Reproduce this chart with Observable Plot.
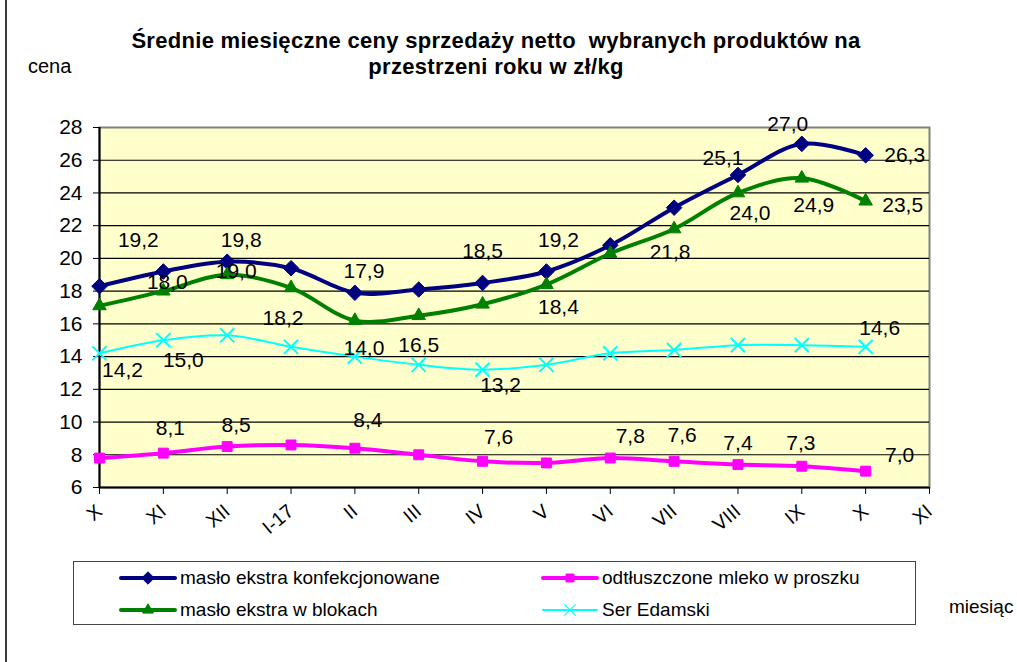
<!DOCTYPE html>
<html>
<head>
<meta charset="utf-8">
<script src="https://cdn.jsdelivr.net/npm/d3@7"></script>
<script src="https://cdn.jsdelivr.net/npm/@observablehq/plot@0.6"></script>
<style>
  body { margin: 0; background: #fff; font-family: "Liberation Sans", Arial, sans-serif; }
  #wrap { position: relative; width: 1017px; height: 662px; overflow: hidden; background: #fff; }
  #border { position: absolute; left: 5px; top: 0; width: 2px; height: 662px; background: #3a3a3a; }
  #title { position: absolute; left: 0; top: 28px; width: 992px; text-align: center; font-weight: bold; font-size: 22px; letter-spacing: 0.3px; line-height: 26px; color: #000; }
  #ylab { position: absolute; left: 28px; top: 57px; font-size: 20px; line-height: 19px; color: #000; }
  #xlab { position: absolute; left: 949px; top: 597px; font-size: 19px; line-height: 19px; color: #000; white-space: nowrap; }
  #chart { position: absolute; left: 0; top: 95px; }
  #legend { position: absolute; left: 73px; top: 561px; width: 841px; height: 62px; border: 1.5px solid #444; }
  .item { position: absolute; display: flex; align-items: center; font-size: 19px; color: #000; white-space: nowrap; height: 24px; }
  .item svg { display: block; margin-right: 3px; }
</style>
</head>
<body>
<div id="wrap">
  <div id="border"></div>
  <div id="title">Średnie miesięczne ceny sprzedaży netto&nbsp; wybranych produktów na<br>przestrzeni roku w zł/kg</div>
  <div id="ylab">cena</div>
  <div id="chart"></div>
  <div id="legend"></div>
  <div id="xlab">miesiąc</div>
</div>
<script>
// ---- data ----
const months = ["X", "XI", "XII", "I-17", "II", "III", "IV", "V", "VI", "VII", "VIII", "IX", "X", "XI"];
const masloKonf  = [18.3, 19.2, 19.8, 19.4, 17.9, 18.1, 18.5, 19.2, 20.8, 23.1, 25.1, 27.0, 26.3];
const mleko      = [7.8, 8.1, 8.5, 8.6, 8.4, 8.0, 7.6, 7.5, 7.8, 7.6, 7.4, 7.3, 7.0];
const masloBlok  = [17.1, 18.0, 19.0, 18.2, 16.2, 16.5, 17.2, 18.4, 20.3, 21.8, 24.0, 24.9, 23.5];
const serEdamski = [14.2, 15.0, 15.3, 14.6, 14.0, 13.5, 13.2, 13.5, 14.2, 14.4, 14.7, 14.7, 14.6];
const seriesNames = ["masło ekstra konfekcjonowane", "odtłuszczone mleko w proszku", "masło ekstra w blokach", "Ser Edamski"];
const yTicks = [6, 8, 10, 12, 14, 16, 18, 20, 22, 24, 26, 28];

// ---- styles ----
const styles = [
  {values: masloKonf,  color: "#000080", symbol: "diamond2", r: 7,   width: 4, fill: true},
  {values: mleko,      color: "#FF00FF", symbol: "square",   r: 5.6, width: 4, fill: true},
  {values: masloBlok,  color: "#008000", symbol: "triangle", r: 5,   width: 4, fill: true},
  {values: serEdamski, color: "#00FFFF", symbol: "times",    r: 6.5, width: 2, fill: false}
];
// which points carry a data label, with label offsets [index, dx, dy]
const labelSpots = [
  [[1,-25,-31],[2,14,-21],[4,9,-22],[6,0,-32],[7,12,-31],[10,-15,-17],[11,-14,-20],[12,39,0]],
  [[1,7,-25],[2,9,-21],[4,13,-28],[6,16,-24],[8,20,-22],[9,8,-26],[10,0,-21],[11,-1,-23],[12,34,-16]],
  [[1,4,-9],[2,9,-4],[3,-8,30],[5,0,30],[7,12,23],[9,-4,23],[10,12,20],[11,12,27],[12,37,4]],
  [[0,23,17],[1,20,20],[4,9,-8],[6,18,16],[12,14,-19]]
];

const fmt = v => v.toFixed(1).replace(".", ",");
const idx = d3.range(months.length);

const marks = [
  Plot.frame({fill: "#FFFFCC", stroke: "#808080", strokeWidth: 2}),
  Plot.gridY(yTicks.filter(t => t > 6 && t < 28), {stroke: "#000", strokeOpacity: 1, strokeWidth: 1.2}),
  Plot.ruleY([6], {stroke: "#000", strokeWidth: 2}),
  Plot.ruleX([0], {stroke: "#000", strokeWidth: 2}),
  Plot.axisY({ticks: yTicks, tickSize: 6, tickPadding: 11, fontSize: 21, label: null, tickFormat: d => d}),
  Plot.axisX({ticks: idx, tickSize: 7, tickFormat: () => "", label: null}),
  Plot.text(idx, {x: d => d, y: () => 6, text: d => months[d], rotate: -40, textAnchor: "end", lineAnchor: "middle", dy: 21, fontSize: 19.5, fill: "#000"})
];

styles.forEach((s, k) => {
  const rows = s.values.map((v, i) => ({i, v}));
  marks.push(Plot.line(rows, {x: "i", y: "v", stroke: s.color, strokeWidth: s.width, curve: "catmull-rom"}));
  marks.push(Plot.dot(rows, {x: "i", y: "v", symbol: () => s.symbol, r: s.r,
    fill: s.fill ? s.color : "none", stroke: s.color, strokeWidth: s.fill ? 1 : 2}));
});
styles.forEach((s, k) => {
  labelSpots[k].forEach(([i, dx, dy]) => {
    marks.push(Plot.text([{i, v: s.values[i]}], {x: "i", y: "v", text: d => fmt(d.v), dx, dy, fontSize: 21, fill: "#000"}));
  });
});

const chart = Plot.plot({
  width: 1017,
  height: 460,
  marginTop: 32,
  marginBottom: 68,
  marginLeft: 99,
  marginRight: 88,
  style: {fontFamily: "'Liberation Sans', Arial, sans-serif", color: "#000", background: "transparent"},
  x: {type: "linear", domain: [0, months.length - 1]},
  y: {domain: [6, 28]},
  symbol: {type: "identity"},
  marks
});
document.getElementById("chart").appendChild(chart);

// ---- legend ----
const legend = document.getElementById("legend");
const legendPos = [[45, 4], [467, 4], [45, 36], [467, 36]];
const legendOrder = [0, 1, 2, 3];
legendOrder.forEach((k, j) => {
  const s = styles[k];
  const item = document.createElement("div");
  item.className = "item";
  item.style.left = legendPos[j][0] + "px";
  item.style.top = legendPos[j][1] + "px";
  const sw = d3.create("svg").attr("width", 58).attr("height", 20);
  sw.append("line").attr("x1", 2).attr("x2", 56).attr("y1", 10).attr("y2", 10)
    .attr("stroke", s.color).attr("stroke-width", s.width).attr("stroke-linecap", "round");
  const symMap = {diamond2: d3.symbolDiamond2, square: d3.symbolSquare, triangle: d3.symbolTriangle, times: d3.symbolTimes};
  sw.append("path").attr("transform", "translate(29,10)")
    .attr("d", d3.symbol(symMap[s.symbol], Math.PI * (s.r * 0.8) ** 2)())
    .attr("fill", s.fill ? s.color : "none").attr("stroke", s.color).attr("stroke-width", s.fill ? 1 : 1.2);
  item.appendChild(sw.node());
  const t = document.createElement("span");
  t.textContent = seriesNames[k];
  item.appendChild(t);
  legend.appendChild(item);
});
</script>
</body>
</html>
